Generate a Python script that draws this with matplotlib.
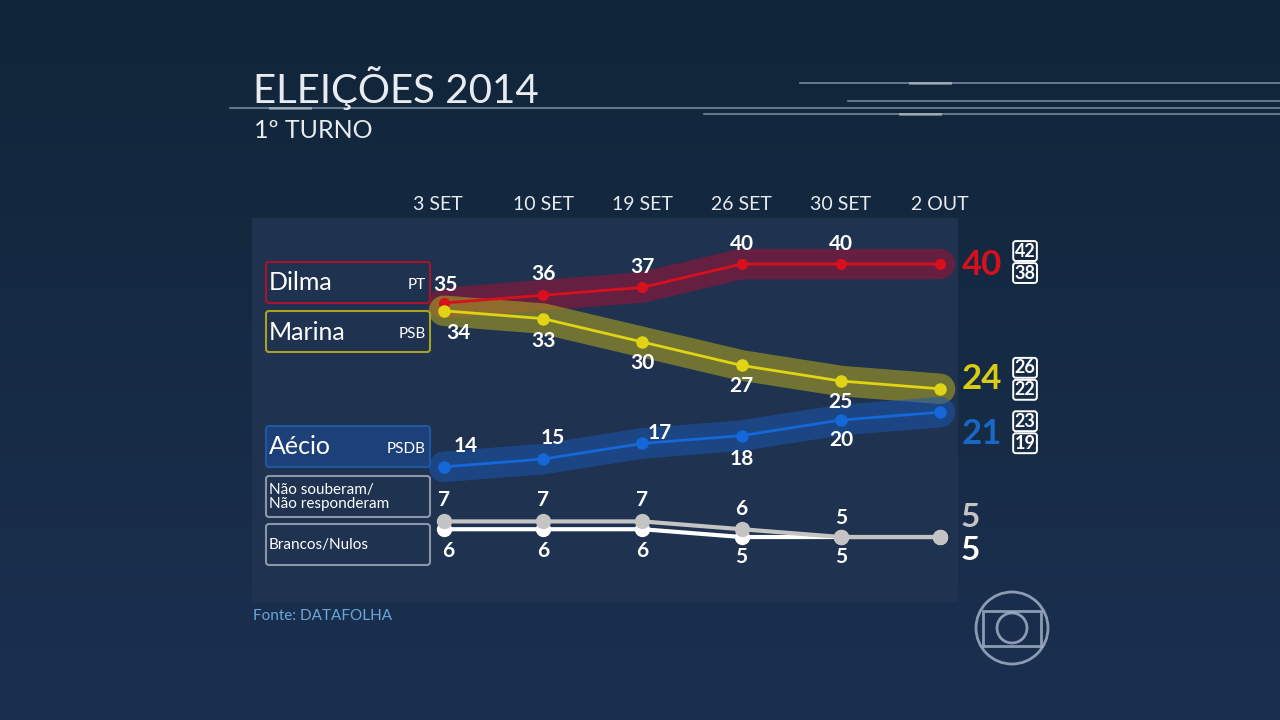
import numpy as np
import matplotlib
matplotlib.use("Agg")
import matplotlib.pyplot as plt
import matplotlib.patches as patches

# dados (Datafolha, 1o turno 2014)
datas = ["3 SET", "10 SET", "19 SET", "26 SET", "30 SET", "2 OUT"]
dilma = [35, 36, 37, 40, 40, 40]
marina = [34, 33, 30, 27, 25, 24]
aecio = [14, 15, 17, 18, 20, 21]
nao_souberam = [7, 7, 7, 6, 5, 5]
brancos_nulos = [6, 6, 6, 5, 5, 5]
margem_dilma = [42, 38]
margem_marina = [26, 22]
margem_aecio = [23, 19]

BG = "#14263b"
PANEL = "#1f3250"
FONT = ["Lato", "DejaVu Sans"]
plt.rcParams["font.family"] = FONT

fig = plt.figure(figsize=(12.8, 7.2), dpi=100)
fig.patch.set_facecolor(BG)

# fundo em coordenadas de pixel
bg = fig.add_axes([0, 0, 1, 1])
bg.set_xlim(0, 1280)
bg.set_ylim(720, 0)
bg.axis("off")
grad = np.linspace(0, 1, 256).reshape(-1, 1)
bg.imshow(grad, extent=[0, 1280, 720, 0], aspect="auto",
          cmap=matplotlib.colors.LinearSegmentedColormap.from_list("g", ["#112539", "#1b3050"]),
          zorder=0)
bg.add_patch(patches.Rectangle((252, 218), 706, 384, facecolor=PANEL, edgecolor="none", zorder=1))

# titulo
bg.text(253, 103, "ELEIÇÕES 2014", color="#e8ecf0", fontsize=29,
        ha="left", va="baseline", zorder=3)
bg.text(254, 138, "1º TURNO", color="#e8ecf0", fontsize=18,
        ha="left", va="baseline", zorder=3)
for x0, y0 in [(230, 108), (800, 83), (848, 101), (704, 114)]:
    bg.plot([x0, 1280], [y0, y0], color="#9fb0c0", lw=1.2, alpha=0.7, zorder=2)
for xg, yg in [(290, 108), (930, 83), (920, 114)]:
    bg.plot([xg - 20, xg + 20], [yg, yg], color="#ffffff", lw=2, alpha=0.4, zorder=2)

# fonte
bg.text(253, 616, "Fonte: DATAFOLHA", color="#6aa6d8", fontsize=11, ha="left", va="center", zorder=3)

# logo
for art in [patches.Circle((1012, 628), 36, fill=False, ec="#a8b8cc", lw=2, alpha=0.8),
            patches.Rectangle((983, 611), 58, 35, fill=False, ec="#a8b8cc", lw=2, alpha=0.8),
            patches.Circle((1012, 628), 15, fill=False, ec="#a8b8cc", lw=2, alpha=0.8)]:
    bg.add_patch(art)

# legendas (caixas)
caixas = [
    (262, "#a8142a", PANEL, "Dilma", "PT"),
    (311, "#a8a220", PANEL, "Marina", "PSB"),
    (426, "#1d58a0", "#1d4078", "Aécio", "PSDB"),
]
for y0, ec, fc, nome, partido in caixas:
    bg.add_patch(patches.FancyBboxPatch((266, y0), 164, 41, boxstyle="round,pad=0,rounding_size=3",
                                        facecolor=fc, edgecolor=ec, lw=1.5, zorder=3))
    bg.text(269, y0 + 21, nome, color="white", fontsize=18, va="center", zorder=4)
    bg.text(426, y0 + 23, partido, color="white", fontsize=11,
            ha="right", va="center", zorder=4)
for y0, txt in [(476, "Não souberam/\nNão responderam"), (524, "Brancos/Nulos")]:
    bg.add_patch(patches.FancyBboxPatch((266, y0), 164, 41, boxstyle="round,pad=0,rounding_size=3",
                                        facecolor=PANEL, edgecolor="#8a96a8", lw=1.5, zorder=3))
    bg.text(269, y0 + 21, txt, color="white", fontsize=11, va="center",
            linespacing=0.95, zorder=4)

# eixo de dados
ax = fig.add_axes([252 / 1280, (720 - 602) / 720, 706 / 1280, 384 / 720])
ax.set_xlim(-1.935, 5.181)
ax.set_ylim(-3.33, 45.9)
ax.axis("off")
ax.patch.set_alpha(0)
x = np.arange(len(datas))

for i, d in enumerate(datas):
    ax.annotate(d, (x[i], 45.9), xytext=(-6 if i == 0 else 0, 13), textcoords="offset pixels",
                ha="center", va="center", color="#e8ecf0", fontsize=14,
                annotation_clip=False)

# faixas translucidas
ax.plot(x, dilma, color="#a01035", lw=22, alpha=0.55, solid_capstyle="round", solid_joinstyle="round")
ax.plot(x, marina, color="#a8a020", lw=22, alpha=0.6, solid_capstyle="round", solid_joinstyle="round")
ax.plot(x, aecio, color="#1a55b0", lw=22, alpha=0.55, solid_capstyle="round", solid_joinstyle="round")

ax.plot(x, dilma, color="#d8101c", lw=2, marker="o", ms=7)
ax.plot(x, marina, color="#e0d414", lw=2, marker="o", ms=8)
ax.plot(x, aecio, color="#1468d8", lw=2, marker="o", ms=8)
ax.plot(x, brancos_nulos, color="white", lw=3, marker="o", ms=10)
ax.plot(x, nao_souberam, color="#c4c4c4", lw=3, marker="o", ms=10)

# rotulos de valores (deslocamentos em pixels)
lab_style = dict(color="white", fontsize=15, fontweight="bold", ha="center", va="center",
                 textcoords="offset pixels", annotation_clip=False)
off_dilma = [(1, 18), (0, 21), (0, 20), (0, 20), (0, 20)]
off_marina = [(14, -22), (0, -22), (0, -21), (0, -21), (0, -21)]
off_aecio = [(22, 21), (10, 21), (17, 10), (0, -23), (0, -20)]
off_ns = [(0, 21), (0, 21), (0, 21), (0, 20), (0, 19)]
off_bn = [(4, -22), (0, -22), (0, -22), (0, -20), (0, -20)]
for serie, offs in [(dilma, off_dilma), (marina, off_marina), (aecio, off_aecio),
                    (nao_souberam, off_ns), (brancos_nulos, off_bn)]:
    for i, off in enumerate(offs):
        ax.annotate(str(serie[i]), (x[i], serie[i]), xytext=off, **lab_style)

# valores finais e margens (deslocamentos verticais em pixels)
finais = [(dilma, "#d8101c", margem_dilma, 0, 2), (marina, "#d8cc14", margem_marina, 11, 10),
          (aecio, "#1868c8", margem_aecio, -21, -20)]
for serie, cor, margem, dy0, dym in finais:
    ax.annotate(str(serie[-1]), (x[-1], serie[-1]), xytext=(42, dy0 - 1), color=cor, fontsize=25,
                fontweight="bold", ha="center", va="center", textcoords="offset pixels",
                annotation_clip=False)
    for m, dy in zip(margem, [11, -11]):
        ax.annotate(str(m), (x[-1], serie[-1]), xytext=(85, dym + dy), color="white", fontsize=13,
                    fontweight="bold", ha="center", va="center", textcoords="offset pixels",
                    annotation_clip=False,
                    bbox=dict(boxstyle="round,pad=0.08,rounding_size=0.15", fc="none", ec="white", lw=1.4))
ax.annotate(str(nao_souberam[-1]), (x[-1], nao_souberam[-1]), xytext=(30, 20), color="#c4c4c4",
            fontsize=24, fontweight="bold", ha="center", va="center", textcoords="offset pixels",
            annotation_clip=False)
ax.annotate(str(brancos_nulos[-1]), (x[-1], brancos_nulos[-1]), xytext=(30, -13), color="white",
            fontsize=24, fontweight="bold", ha="center", va="center", textcoords="offset pixels",
            annotation_clip=False)

fig.savefig("out.png", dpi=100, facecolor=fig.get_facecolor())
